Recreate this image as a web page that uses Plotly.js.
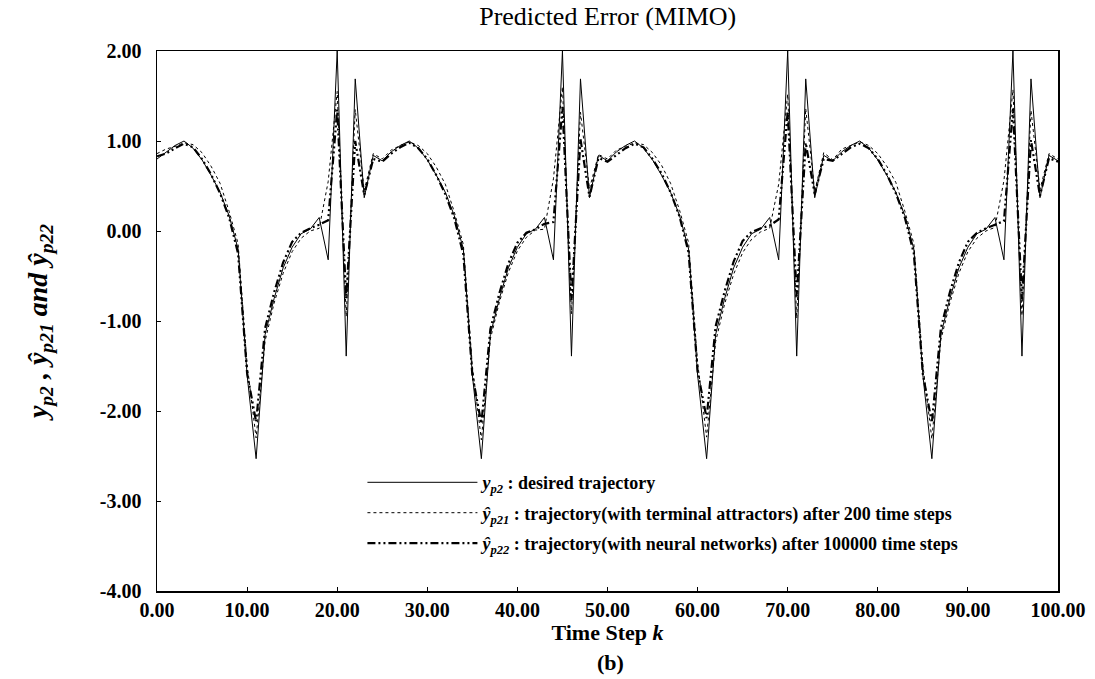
<!DOCTYPE html>
<html>
<head>
<meta charset="utf-8">
<script src="https://cdn.plot.ly/plotly-3.0.1.min.js"></script>
<style>html,body{margin:0;padding:0;background:#fff;}#chart{width:1095px;height:679px;}</style>
</head>
<body>
<div id="chart"></div>
<script>
// Time steps k = 0 .. 100
const timeStep = [0,1,2,3,4,5,6,7,8,9,10,11,12,13,14,15,16,17,18,19,20,21,22,23,24,
  25,26,27,28,29,30,31,32,33,34,35,36,37,38,39,40,41,42,43,44,45,46,47,48,49,
  50,51,52,53,54,55,56,57,58,59,60,61,62,63,64,65,66,67,68,69,70,71,72,73,74,
  75,76,77,78,79,80,81,82,83,84,85,86,87,88,89,90,91,92,93,94,95,96,97,98,99,100];

// y_p2 : desired trajectory
const yp2 = [0.80,0.88,0.95,1.00,0.92,0.79,0.62,0.43,0.17,-0.20,-1.60,-2.53,-1.15,-0.75,-0.41,-0.18,-0.03,0.02,0.15,-0.32,2.00,-1.39,1.69,0.37,0.84,
  0.78,0.88,0.95,1.00,0.92,0.79,0.62,0.43,0.17,-0.20,-1.60,-2.53,-1.15,-0.75,-0.41,-0.18,-0.03,0.02,0.15,-0.32,2.00,-1.39,1.69,0.37,0.84,
  0.78,0.88,0.95,1.00,0.92,0.79,0.62,0.43,0.17,-0.20,-1.60,-2.53,-1.15,-0.75,-0.41,-0.18,-0.03,0.02,0.15,-0.32,2.00,-1.39,1.69,0.37,0.84,
  0.78,0.88,0.95,1.00,0.92,0.79,0.62,0.43,0.17,-0.20,-1.60,-2.53,-1.15,-0.75,-0.41,-0.18,-0.03,0.02,0.15,-0.32,2.00,-1.39,1.69,0.37,0.84,
  0.78];

// ŷ_p21 : terminal attractors, after 200 time steps
const yp21 = [0.86,0.91,0.94,0.98,0.96,0.87,0.72,0.53,0.22,-0.14,-1.48,-2.30,-1.22,-0.80,-0.47,-0.23,-0.08,0.00,0.03,0.55,1.55,-0.95,1.35,0.45,0.86,
  0.80,0.90,0.95,0.99,0.95,0.86,0.71,0.52,0.21,-0.15,-1.50,-2.32,-1.20,-0.79,-0.46,-0.22,-0.07,0.01,0.02,0.58,1.60,-0.92,1.32,0.47,0.85,
  0.80,0.90,0.94,0.98,0.96,0.87,0.73,0.53,0.23,-0.13,-1.46,-2.29,-1.23,-0.81,-0.48,-0.24,-0.09,-0.01,0.03,0.52,1.52,-0.97,1.36,0.44,0.87,
  0.79,0.91,0.95,0.99,0.95,0.86,0.72,0.54,0.22,-0.14,-1.49,-2.31,-1.21,-0.80,-0.47,-0.23,-0.08,0.00,0.04,0.56,1.57,-0.94,1.34,0.46,0.86,
  0.80];

// ŷ_p22 : neural networks, after 100000 time steps
const yp22 = [0.83,0.86,0.92,0.97,0.93,0.80,0.63,0.42,0.15,-0.25,-1.58,-2.12,-1.08,-0.68,-0.35,-0.12,-0.02,0.03,0.07,0.12,1.35,-0.75,1.00,0.40,0.80,
  0.77,0.86,0.93,0.98,0.92,0.80,0.62,0.41,0.14,-0.26,-1.60,-2.14,-1.09,-0.69,-0.36,-0.13,-0.02,0.02,0.08,0.10,1.38,-0.77,1.02,0.38,0.81,
  0.77,0.85,0.92,0.97,0.93,0.80,0.64,0.43,0.16,-0.24,-1.56,-2.08,-1.06,-0.67,-0.34,-0.11,-0.01,0.03,0.06,0.13,1.33,-0.73,0.98,0.41,0.80,
  0.78,0.86,0.93,0.97,0.92,0.80,0.63,0.42,0.15,-0.25,-1.59,-2.13,-1.08,-0.68,-0.35,-0.12,-0.02,0.03,0.07,0.11,1.36,-0.76,1.01,0.39,0.81,
  0.77];

// Tick labels
const xTickVals = [0,10,20,30,40,50,60,70,80,90,100];
const xTickText = ['0.00','10.00','20.00','30.00','40.00','50.00','60.00','70.00','80.00','90.00','100.00'];
const yTickVals = [-4,-3,-2,-1,0,1,2];
const yTickText = ['-4.00','-3.00','-2.00','-1.00','0.00','1.00','2.00'];

const serif = "Liberation Serif, Times New Roman, serif";

const traces = [
  {x: timeStep, y: yp2, type: 'scatter', mode: 'lines', legendgroup: 'a',
   name: '<i>y</i><sub><i>p2</i></sub> : desired trajectory',
   line: {color: '#000', width: 1}},
  {x: timeStep, y: yp21, type: 'scatter', mode: 'lines', legendgroup: 'b',
   name: '<i>ŷ</i><sub><i>p21</i></sub> : trajectory(with terminal attractors) after 200 time steps',
   line: {color: '#000', width: 1, dash: '3px,3px'}},
  {x: timeStep, y: yp22, type: 'scatter', mode: 'lines', legendgroup: 'c',
   name: '<i>ŷ</i><sub><i>p22</i></sub> : trajectory(with neural networks) after 100000 time steps',
   line: {color: '#000', width: 2.2, dash: '8px,3px,2px,3px,2px,3px'}}
];

const layout = {
  width: 1095, height: 679,
  margin: {l: 157, r: 37, t: 51, b: 88},
  paper_bgcolor: '#fff', plot_bgcolor: '#fff',
  showlegend: true,
  title: {text: 'Predicted Error (MIMO)', x: 0.555, xanchor: 'center', y: 0.99, yanchor: 'top',
          font: {family: serif, size: 26, color: '#000'}},
  xaxis: {range: [0, 100], tickmode: 'array', tickvals: xTickVals, ticktext: xTickText,
          showline: true, mirror: true, linecolor: '#000', linewidth: 1.5,
          ticks: 'inside', ticklen: 4, tickcolor: '#000', showgrid: false, zeroline: false,
          tickfont: {family: serif, size: 20, color: '#000', weight: 'bold'},
          title: {text: 'Time Step <i>k</i>', standoff: 3,
                  font: {family: serif, size: 22, color: '#000', weight: 'bold'}}},
  yaxis: {range: [-4, 2], tickmode: 'array', tickvals: yTickVals, ticktext: yTickText,
          showline: true, mirror: true, linecolor: '#000', linewidth: 1.5,
          ticks: 'inside', ticklen: 4, tickcolor: '#000', showgrid: false, zeroline: false,
          ticklabelstandoff: 10,
          tickfont: {family: serif, size: 20, color: '#000', weight: 'bold'},
          title: {text: '<i>y</i><sub><i>p2</i></sub><i> , ŷ</i><sub><i>p21</i></sub><i> and ŷ</i><sub><i>p22</i></sub>',
                  standoff: 44,
                  font: {family: serif, size: 28, color: '#000', weight: 'bold'}}},
  annotations: [
    {text: '(b)', xref: 'paper', yref: 'paper', x: 0.503, y: -0.105, xanchor: 'center', yanchor: 'top',
     showarrow: false, font: {family: serif, size: 22, color: '#000', weight: 'bold'}}
  ],
  legend: {x: 0.228, y: 0.235, xanchor: 'left', yanchor: 'top',
           bgcolor: 'rgba(0,0,0,0)', borderwidth: 0, itemwidth: 110,
           font: {family: serif, size: 18, color: '#000', weight: 'bold'},
           tracegroupgap: 4}
};

Plotly.newPlot('chart', traces, layout, {displayModeBar: false, staticPlot: true});
</script>
</body>
</html>
